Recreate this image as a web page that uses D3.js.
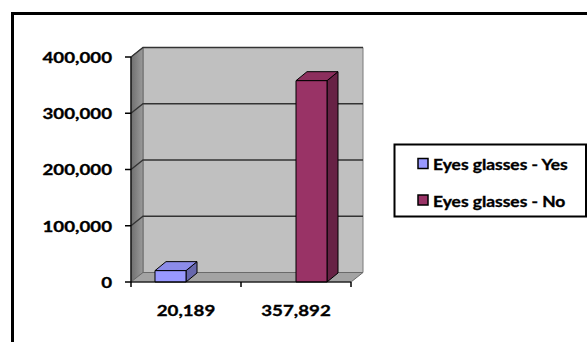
<!DOCTYPE html>
<html>
<head>
<meta charset="utf-8">
<script src="https://cdn.jsdelivr.net/npm/d3@7"></script>
<style>
  html, body { margin: 0; padding: 0; background: #fff; }
  svg { display: block; }
  text { font-family: Lato, "Open Sans", sans-serif; font-weight: bold; fill: #000; stroke: #000; stroke-width: 0.35px; }
</style>
</head>
<body>
<svg id="chart" width="587" height="342"></svg>
<script>
// Category labels along the x axis
const categories = ["20,189", "357,892"];
// Series names (legend) and their values per category
const seriesNames = ["Eyes glasses - Yes", "Eyes glasses - No"];
const yesValues = [20189, 0];
const noValues = [0, 357892];
// Value axis ticks
const yTicks = [0, 100000, 200000, 300000, 400000];
const yMax = 400000;

const seriesColors = ["#9999FF", "#993366"];
const seriesValues = [yesValues, noValues];

const svg = d3.select("#chart");

// Plot geometry (front plane) and the 3D depth offsets
const plot = { left: 131, right: 351, top: 57, bottom: 282 };
const wall = { dx: 12, dy: -9.5 };
const barDepth = { dx: 11, dy: -9 };
const stretchAxis = 1.17;
const stretchLegend = 1.2;

const x = d3.scaleBand().domain(categories).range([plot.left, plot.right]).paddingInner(0).paddingOuter(0);
const xs = d3.scaleBand().domain(d3.range(seriesNames.length)).range([0, x.bandwidth()]).paddingInner(0).paddingOuter(0.774);
const y = d3.scaleLinear().domain([0, yMax]).range([plot.bottom, plot.top]);

// Outer chart frame
svg.append("rect")
  .attr("x", 12.5).attr("y", 13.5)
  .attr("width", 700).attr("height", 500)
  .attr("fill", "none").attr("stroke", "#000").attr("stroke-width", 3);

const pts = a => a.map(p => p.join(",")).join(" ");

// Back wall
const bx0 = plot.left + wall.dx, bx1 = plot.right + wall.dx;
svg.append("polygon")
  .attr("points", pts([[bx0, y(yMax) + wall.dy], [bx1, y(yMax) + wall.dy], [bx1, y(0) + wall.dy], [bx0, y(0) + wall.dy]]))
  .attr("fill", "#c0c0c0").attr("stroke", "#7a7a7a").attr("stroke-width", 1);

// Side wall
const sideGrad = svg.append("defs").append("linearGradient").attr("id", "sideGrad")
  .attr("x1", "0").attr("x2", "1").attr("y1", "0").attr("y2", "0");
sideGrad.append("stop").attr("offset", "0").attr("stop-color", "#6f6f6f");
sideGrad.append("stop").attr("offset", "1").attr("stop-color", "#9a9a9a");
svg.append("polygon")
  .attr("points", pts([[plot.left, y(0)], [plot.left, y(yMax)], [bx0, y(yMax) + wall.dy], [bx0, y(0) + wall.dy]]))
  .attr("fill", "url(#sideGrad)").attr("stroke", "#6a6a6a").attr("stroke-width", 1);

// Floor
svg.append("polygon")
  .attr("points", pts([[plot.left, y(0)], [plot.right, y(0)], [bx1, y(0) + wall.dy], [bx0, y(0) + wall.dy]]))
  .attr("fill", "#a3a3a3").attr("stroke", "#6a6a6a").attr("stroke-width", 1);

// Gridlines across side wall and back wall
yTicks.filter(t => t > 0).forEach(t => {
  svg.append("polyline")
    .attr("points", pts([[plot.left, y(t)], [bx0, y(t) + wall.dy], [bx1, y(t) + wall.dy]]))
    .attr("fill", "none").attr("stroke", "#333").attr("stroke-width", 1.3);
});

// 3D columns
seriesValues.forEach((vals, si) => {
  const base = d3.color(seriesColors[si]);
  const topC = base.darker(0.25);
  const sideC = base.darker(1.1);
  categories.forEach((c, ci) => {
    const v = vals[ci];
    if (!v) return;
    const x0 = x(c) + xs(si), x1 = x0 + xs.bandwidth();
    const y0 = y(0), y1 = y(v);
    const g = svg.append("g").attr("stroke", "#000").attr("stroke-width", 1).attr("stroke-linejoin", "round");
    g.append("polygon")
      .attr("points", pts([[x1, y0], [x1, y1], [x1 + barDepth.dx, y1 + barDepth.dy], [x1 + barDepth.dx, y0 + barDepth.dy]]))
      .attr("fill", sideC);
    g.append("polygon")
      .attr("points", pts([[x0, y1], [x1, y1], [x1 + barDepth.dx, y1 + barDepth.dy], [x0 + barDepth.dx, y1 + barDepth.dy]]))
      .attr("fill", topC);
    g.append("rect")
      .attr("x", x0).attr("y", y1).attr("width", x1 - x0).attr("height", y0 - y1)
      .attr("fill", base);
  });
});

// Axis lines and tick marks
svg.append("line").attr("x1", plot.left).attr("x2", plot.left).attr("y1", y(yMax)).attr("y2", y(0))
  .attr("stroke", "#000").attr("stroke-width", 1.2);
svg.append("line").attr("x1", plot.left).attr("x2", plot.right).attr("y1", y(0)).attr("y2", y(0))
  .attr("stroke", "#000").attr("stroke-width", 1.2);

const fmt = d3.format(",");
yTicks.forEach(t => {
  svg.append("line").attr("x1", plot.left - 6).attr("x2", plot.left).attr("y1", y(t)).attr("y2", y(t))
    .attr("stroke", "#000").attr("stroke-width", 1.5);
  svg.append("g").attr("transform", `translate(112,${y(t)}) scale(${stretchAxis},1)`)
    .append("text").attr("text-anchor", "end").attr("dy", "0.36em")
    .style("font-size", "16px").text(fmt(t));
});

const xTickPos = [plot.left].concat(categories.map(c => x(c) + x.bandwidth()));
xTickPos.forEach(p => {
  svg.append("line").attr("x1", p).attr("x2", p).attr("y1", y(0)).attr("y2", y(0) + 5)
    .attr("stroke", "#000").attr("stroke-width", 1.5);
});
categories.forEach(c => {
  svg.append("g").attr("transform", `translate(${x(c) + x.bandwidth() / 2},315.5) scale(${stretchAxis},1)`)
    .append("text").attr("text-anchor", "middle")
    .style("font-size", "16px").text(c);
});

// Legend
svg.append("rect").attr("x", 394.5).attr("y", 144.5).attr("width", 191.5).attr("height", 72)
  .attr("fill", "#fff").attr("stroke", "#000").attr("stroke-width", 2);
seriesNames.forEach((name, i) => {
  const cy = 163.5 + i * 36.5;
  svg.append("rect").attr("x", 418).attr("y", cy - 5).attr("width", 10).attr("height", 10)
    .attr("fill", seriesColors[i]).attr("stroke", "#000").attr("stroke-width", 1.5);
  svg.append("g").attr("transform", `translate(433,${cy + 6.5}) scale(${stretchLegend},1)`)
    .append("text").style("font-size", "14.5px").text(name);
});
</script>
</body>
</html>
